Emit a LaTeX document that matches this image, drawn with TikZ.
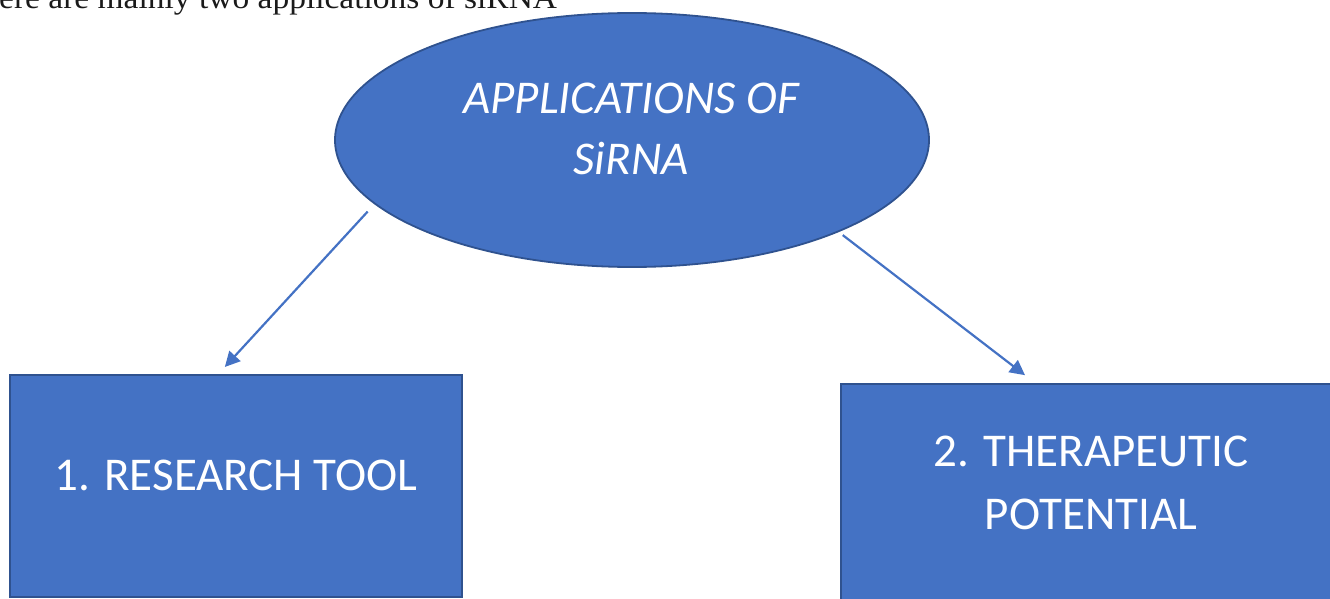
\documentclass[tikz,border=0pt]{standalone}
\usepackage{fontspec}
\setmainfont{Liberation Serif}
\newfontfamily\calibri{Carlito}
\usetikzlibrary{shapes.geometric,arrows.meta,calc}
\definecolor{fillblue}{HTML}{4472C4}
\definecolor{edgeblue}{HTML}{2F528F}
\definecolor{introgray}{HTML}{1A1A1A}
\begin{document}
\begin{tikzpicture}[x=1pt,y=-1pt,
  blob/.style={ellipse,fill=fillblue,draw=edgeblue,line width=1.8pt,minimum width=594pt,minimum height=254pt,inner sep=0pt},
  panel/.style={rectangle,fill=fillblue,draw=edgeblue,line width=1.8pt,inner sep=0pt},
  wtext/.style={text=white,font=\calibri\fontsize{47}{63}\selectfont,align=center,inner sep=0pt},
  link/.style={draw=fillblue,line width=2.2pt,-{Triangle[length=15pt,width=15pt]}}]
\useasboundingbox (0,0) rectangle (1330,599);
\node[anchor=base west,inner sep=0pt,text=introgray,font=\fontsize{31}{37}\selectfont] (intro) at (-1,8.5) {\scalebox{1.08}[1]{ere are mainly two applications of siRNA}};
\node[blob] (app) at (632,140) {};
\node[wtext,font=\calibri\itshape\fontsize{47}{61}\selectfont] (appt) at (631,128.5) {APPLICATIONS OF\\SiRNA};
\node[panel,minimum width=452pt,minimum height=222pt] (res) at (236,486) {};
\node[wtext] (rest) at (236,475) {1. RESEARCH TOOL};
\node[panel,minimum width=493pt,minimum height=218pt] (ther) at (1087.5,493) {};
\node[wtext] (thert) at (1091,483) {2. THERAPEUTIC\\POTENTIAL};
\draw[link,shorten <=10pt,shorten >=9.7pt] (app.194.6) -- ($(res.north west)!0.461!(res.north east)$);
\draw[link,shorten <=5pt,shorten >=13pt] (app.-24.3) -- ($(ther.north west)!0.3945!(ther.north east)$);
\end{tikzpicture}
\end{document}
